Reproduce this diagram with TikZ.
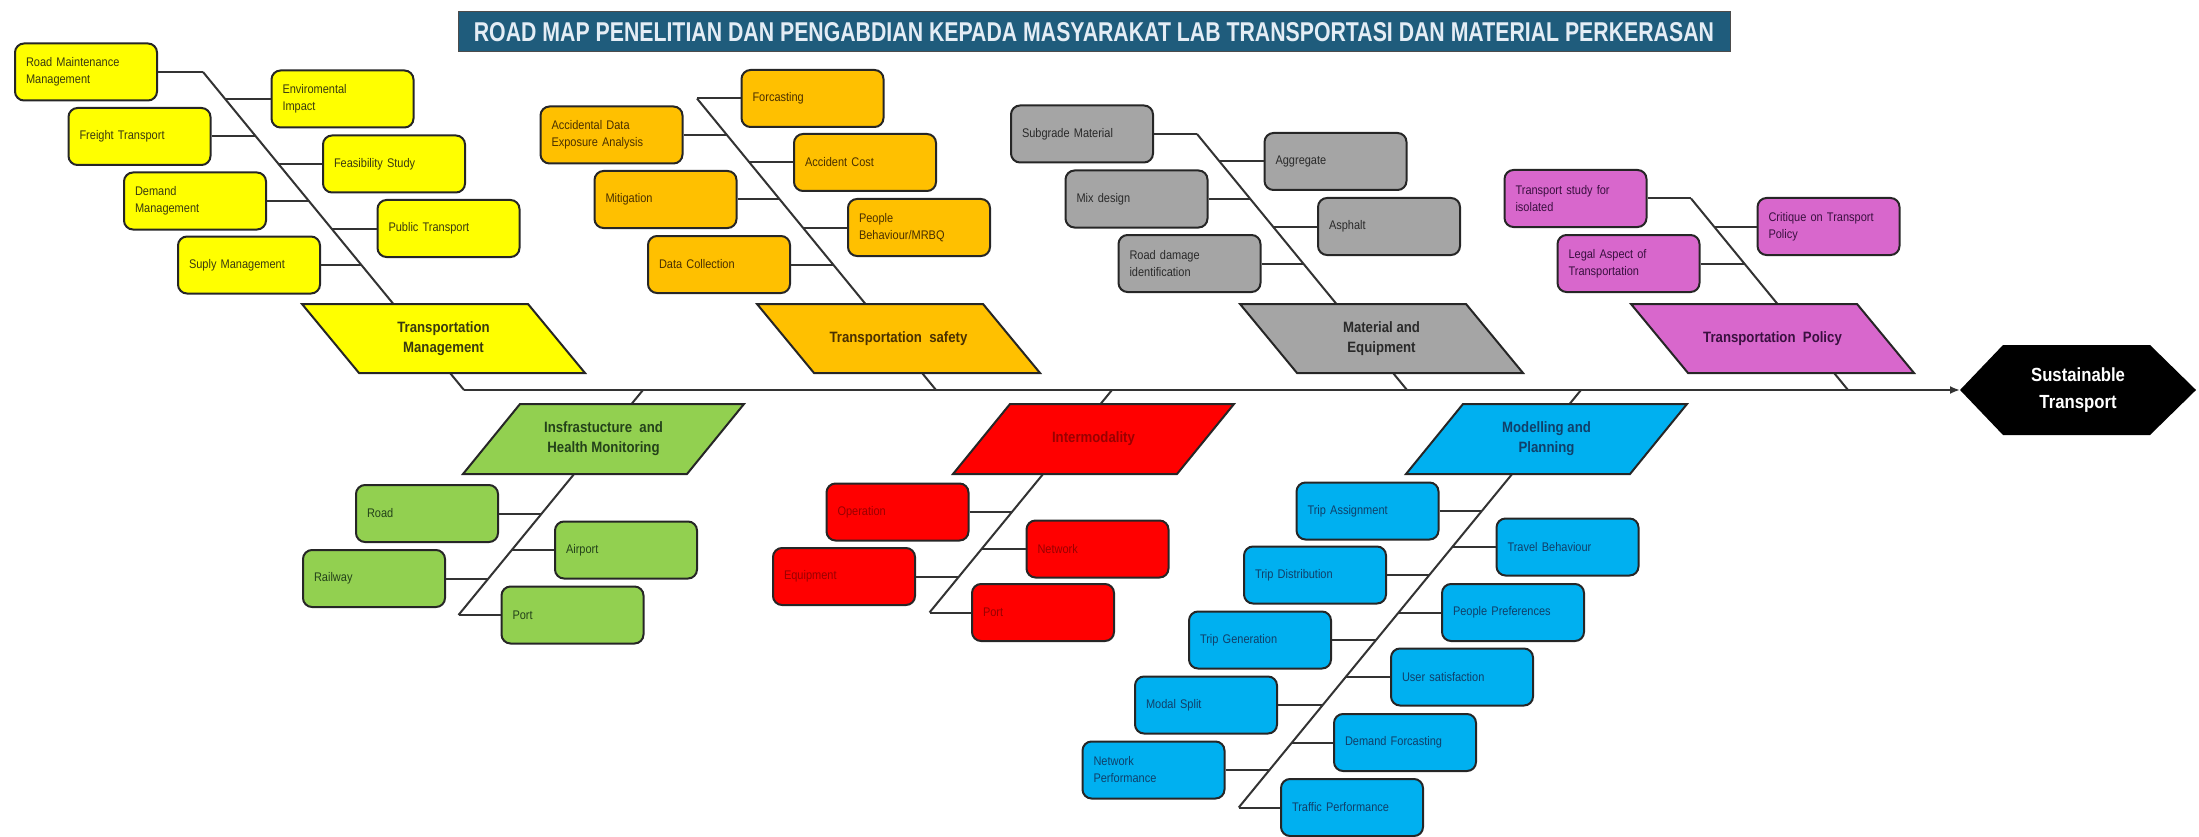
\documentclass[tikz,border=0pt]{standalone}
\usepackage{fontspec}
\setmainfont{Liberation Sans}[FakeStretch=0.88]
\usetikzlibrary{arrows.meta}
\definecolor{cyel}{HTML}{FFFF00}
\definecolor{corg}{HTML}{FFC000}
\definecolor{cgry}{HTML}{A5A5A5}
\definecolor{cpnk}{HTML}{D867CC}
\definecolor{cgrn}{HTML}{92D050}
\definecolor{cred}{HTML}{FF0000}
\definecolor{cblu}{HTML}{00B0F0}
\definecolor{tyel}{HTML}{3A3A10}
\definecolor{torg}{HTML}{4A3000}
\definecolor{tgry}{HTML}{2A2A2A}
\definecolor{tpnk}{HTML}{3A1040}
\definecolor{tgrn}{HTML}{24421A}
\definecolor{tred}{HTML}{990000}
\definecolor{tblu}{HTML}{10406A}
\definecolor{boxline}{HTML}{262626}
\definecolor{bonecol}{HTML}{333333}
\definecolor{titlebg}{HTML}{1F5C7C}
\definecolor{titletx}{HTML}{E4EDF5}
\begin{document}
\begin{tikzpicture}[x=1pt,y=-1pt,
  sub/.style={draw=boxline, line width=2pt, rounded corners=9pt,
    minimum width=142pt, minimum height=57pt, text width=120pt,
    inner xsep=11pt, align=left, font=\fontsize{12.5}{17}\selectfont},
  ybox/.style={sub, fill=cyel, text=tyel},
  obox/.style={sub, fill=corg, text=torg},
  gbox/.style={sub, fill=cgry, text=tgry},
  pbox/.style={sub, fill=cpnk, text=tpnk},
  grbox/.style={sub, fill=cgrn, text=tgrn},
  rbox/.style={sub, fill=cred, text=tred},
  bbox/.style={sub, fill=cblu, text=tblu},
  catshape/.style={draw=boxline, line width=2pt},
  cattext/.style={font=\bfseries\fontsize{15}{20}\selectfont, align=center},
  bone/.style={draw=bonecol, line width=2pt},
]
\useasboundingbox (0,0) rectangle (2199,837);

% ---- title ----
\node[fill=titlebg, draw=black!70, line width=1pt, minimum width=1272pt,
  minimum height=40pt, inner sep=0pt, text=titletx] (title) at (1094,32)
  {\resizebox{1240pt}{19pt}{\bfseries ROAD MAP PENELITIAN DAN PENGABDIAN KEPADA MASYARAKAT LAB TRANSPORTASI DAN MATERIAL PERKERASAN}};

% ---- bone coordinates ----
\coordinate (tm-s) at (203,72);   \coordinate (tm-e) at (464,390);
\coordinate (ts-s) at (697,98.5); \coordinate (ts-e) at (936,390);
\coordinate (me-s) at (1197,134); \coordinate (me-e) at (1407,390);
\coordinate (tp-s) at (1691,198.5); \coordinate (tp-e) at (1848,390);
\coordinate (ih-s) at (643,390);  \coordinate (ih-e) at (458.5,615);
\coordinate (im-s) at (1112,390); \coordinate (im-e) at (929.5,612.5);
\coordinate (mp-s) at (1581,390); \coordinate (mp-e) at (1238.7,807.5);
\coordinate (stw) at (1960,390);

\draw[bone] (tm-s) -- (tm-e);
\draw[bone] (ts-s) -- (ts-e);
\draw[bone] (me-s) -- (me-e);
\draw[bone] (tp-s) -- (tp-e);
\draw[bone] (ih-s) -- (ih-e);
\draw[bone] (im-s) -- (im-e);
\draw[bone] (mp-s) -- (mp-e);

% ---- spine ----
\draw[bone, -{Latex[length=10pt,width=8pt]}] (tm-e) -- (stw);

% ---- category parallelograms ----
\filldraw[catshape, fill=cyel] (302,304) -- (528,304) -- (585,373) -- (359,373) -- cycle;
\node[cattext, text=tyel] (tm) at (443.5,338.5) {Transportation\\Management};
\filldraw[catshape, fill=corg] (757,304) -- (983,304) -- (1040,373) -- (814,373) -- cycle;
\node[cattext, text=torg] (ts) at (898.5,338.5) {Transportation\ \ safety};
\filldraw[catshape, fill=cgry] (1240,304) -- (1466,304) -- (1523,373) -- (1297,373) -- cycle;
\node[cattext, text=tgry] (me) at (1381.5,338.5) {Material and\\Equipment};
\filldraw[catshape, fill=cpnk] (1631,304) -- (1857,304) -- (1914,373) -- (1688,373) -- cycle;
\node[cattext, text=tpnk] (tp) at (1772.5,338.5) {Transportation\ \ Policy};

\filldraw[catshape, fill=cgrn] (463,474) -- (687,474) -- (744,404) -- (520,404) -- cycle;
\node[cattext, text=tgrn] (ih) at (603.5,439) {Insfrastucture\ \ and\\Health Monitoring};
\filldraw[catshape, fill=cred] (953,474) -- (1177,474) -- (1234,404) -- (1010,404) -- cycle;
\node[cattext, text=tred] (im) at (1093.5,439) {Intermodality};
\filldraw[catshape, fill=cblu] (1406,474) -- (1630,474) -- (1687,404) -- (1463,404) -- cycle;
\node[cattext, text=tblu] (mp) at (1546.5,439) {Modelling and\\Planning};

% ---- Transportation Management boxes ----
\node[ybox] (rmm) at (86,72) {Road Maintenance\\Management};
\node[ybox] (env) at (342.5,99) {Enviromental\\Impact};
\node[ybox] (frt) at (139.5,136.5) {Freight Transport};
\node[ybox] (fea) at (394,164) {Feasibility Study};
\node[ybox] (dem) at (195,201) {Demand\\Management};
\node[ybox] (pub) at (448.5,228.5) {Public Transport};
\node[ybox] (sup) at (249,265) {Suply Management};
\coordinate (tm-1) at (225,99);
\coordinate (tm-2) at (256,136.5);
\coordinate (tm-3) at (278,164);
\coordinate (tm-4) at (309,201);
\coordinate (tm-5) at (331,228.5);
\coordinate (tm-6) at (361,265);
\draw[bone] (rmm.east) -- (tm-s);
\draw[bone] (env.west) -- (tm-1);
\draw[bone] (frt.east) -- (tm-2);
\draw[bone] (fea.west) -- (tm-3);
\draw[bone] (dem.east) -- (tm-4);
\draw[bone] (pub.west) -- (tm-5);
\draw[bone] (sup.east) -- (tm-6);

% ---- Transportation safety boxes ----
\node[obox] (for) at (812.5,98.5) {Forcasting};
\node[obox] (acd) at (611.5,135) {Accidental Data\\Exposure Analysis};
\node[obox] (acc) at (865,162.5) {Accident Cost};
\node[obox] (mit) at (665.5,199.5) {Mitigation};
\node[obox] (peo) at (919,227.5) {People\\Behaviour/MRBQ};
\node[obox] (dat) at (719,264.5) {Data Collection};
\coordinate (ts-1) at (727,135);
\coordinate (ts-2) at (749.5,162.5);
\coordinate (ts-3) at (780,199.5);
\coordinate (ts-4) at (803,227.5);
\coordinate (ts-5) at (833,264.5);
\draw[bone] (for.west) -- (ts-s);
\draw[bone] (acd.east) -- (ts-1);
\draw[bone] (acc.west) -- (ts-2);
\draw[bone] (mit.east) -- (ts-3);
\draw[bone] (peo.west) -- (ts-4);
\draw[bone] (dat.east) -- (ts-5);

% ---- Material and Equipment boxes ----
\node[gbox] (sbg) at (1082,134) {Subgrade Material};
\node[gbox] (agg) at (1335.5,161.5) {Aggregate};
\node[gbox] (mix) at (1136.5,199) {Mix design};
\node[gbox] (asp) at (1389,226.5) {Asphalt};
\node[gbox] (rdi) at (1189.5,263.5) {Road damage\\identification};
\coordinate (me-1) at (1219.5,161.5);
\coordinate (me-2) at (1250,199);
\coordinate (me-3) at (1273,226.5);
\coordinate (me-4) at (1303,263.5);
\draw[bone] (sbg.east) -- (me-s);
\draw[bone] (agg.west) -- (me-1);
\draw[bone] (mix.east) -- (me-2);
\draw[bone] (asp.west) -- (me-3);
\draw[bone] (rdi.east) -- (me-4);

% ---- Transportation Policy boxes ----
\node[pbox] (tsi) at (1575.5,198.5) {Transport study for\\isolated};
\node[pbox] (cri) at (1828.5,226.5) {Critique on Transport\\Policy};
\node[pbox] (leg) at (1628.5,263.5) {Legal Aspect of\\Transportation};
\coordinate (tp-1) at (1713.5,226.5);
\coordinate (tp-2) at (1744,263.5);
\draw[bone] (tsi.east) -- (tp-s);
\draw[bone] (cri.west) -- (tp-1);
\draw[bone] (leg.east) -- (tp-2);

% ---- Infrastructure boxes ----
\node[grbox] (road) at (427,513.5) {Road};
\node[grbox] (air) at (626,550) {Airport};
\node[grbox] (rail) at (374,578.5) {Railway};
\node[grbox] (port) at (572.5,615) {Port};
\coordinate (ih-1) at (542,513.5);
\coordinate (ih-2) at (512,550);
\coordinate (ih-3) at (488,578.5);
\draw[bone] (road.east) -- (ih-1);
\draw[bone] (air.west) -- (ih-2);
\draw[bone] (rail.east) -- (ih-3);
\draw[bone] (port.west) -- (ih-e);

% ---- Intermodality boxes ----
\node[rbox] (ope) at (897.5,512) {Operation};
\node[rbox] (net) at (1097.5,549) {Network};
\node[rbox] (equ) at (844,576.5) {Equipment};
\node[rbox] (prt) at (1043,612.5) {Port};
\coordinate (im-1) at (1012,512);
\coordinate (im-2) at (981.6,549);
\coordinate (im-3) at (959,576.5);
\draw[bone] (ope.east) -- (im-1);
\draw[bone] (net.west) -- (im-2);
\draw[bone] (equ.east) -- (im-3);
\draw[bone] (prt.west) -- (im-e);

% ---- Modelling and Planning boxes ----
\node[bbox] (tas) at (1367.5,511) {Trip Assignment};
\node[bbox] (tbe) at (1567.5,547) {Travel Behaviour};
\node[bbox] (tdi) at (1315,575) {Trip Distribution};
\node[bbox] (ppr) at (1513,612.5) {People Preferences};
\node[bbox] (tge) at (1260,640) {Trip Generation};
\node[bbox] (usa) at (1462,677) {User satisfaction};
\node[bbox] (mos) at (1206,705) {Modal Split};
\node[bbox] (dfo) at (1405,742.5) {Demand Forcasting};
\node[bbox] (npe) at (1153.5,770) {Network\\Performance};
\node[bbox] (tpe) at (1352,807.5) {Traffic Performance};
\coordinate (mp-1) at (1482,511);
\coordinate (mp-2) at (1452,547);
\coordinate (mp-3) at (1429,575);
\coordinate (mp-4) at (1398.5,612.5);
\coordinate (mp-5) at (1376,640);
\coordinate (mp-6) at (1345.7,677);
\coordinate (mp-7) at (1322.7,705);
\coordinate (mp-8) at (1292,742.5);
\coordinate (mp-9) at (1269.4,770);
\draw[bone] (tas.east) -- (mp-1);
\draw[bone] (tbe.west) -- (mp-2);
\draw[bone] (tdi.east) -- (mp-3);
\draw[bone] (ppr.west) -- (mp-4);
\draw[bone] (tge.east) -- (mp-5);
\draw[bone] (usa.west) -- (mp-6);
\draw[bone] (mos.east) -- (mp-7);
\draw[bone] (dfo.west) -- (mp-8);
\draw[bone] (npe.east) -- (mp-9);
\draw[bone] (tpe.west) -- (mp-e);

% ---- Sustainable Transport hexagon ----
\fill[black] (stw) -- (2003,345) -- (2150,345) -- (2196,390) -- (2150,435) -- (2003,435) -- cycle;
\node[text=white, font=\bfseries\fontsize{19}{27}\selectfont, align=center] (st) at (2078,390) {Sustainable\\Transport};
\end{tikzpicture}
\end{document}
